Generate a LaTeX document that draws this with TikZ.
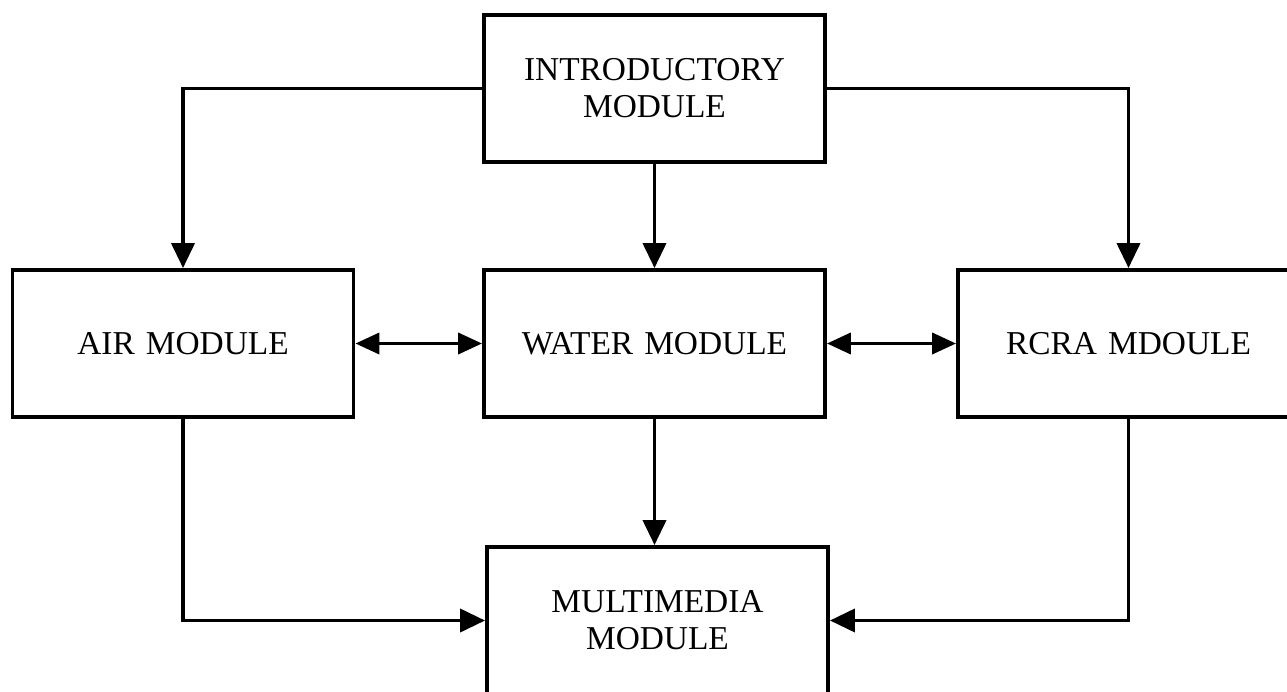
\documentclass[tikz,border=0pt]{standalone}
\usepackage{fontspec}
\setmainfont{Liberation Serif}
\usepackage{tikz}
\usetikzlibrary{arrows.meta}
\tikzstyle{line} = [draw, line width=2.2pt, -{Triangle[length=0.5cm, width=0.46cm]}]
\tikzstyle{both} = [draw, line width=2.2pt, {Triangle[length=0.48cm, width=0.42cm]}-{Triangle[length=0.48cm, width=0.42cm]}]
\tikzstyle{module} = [rectangle, draw, line width=2.2pt, minimum width=6.82cm, minimum height=2.94cm, text width=6cm, align=center, node distance=9.45cm, font=\fontsize{19}{21}\selectfont]

\begin{document}
\begin{tikzpicture}
\clip (0,0) rectangle (25.74,-13.82);
\node [module] (water) at (13.09,-6.87) {WATER MODULE};
\node [module, above of = water, node distance = 5.1cm] (intro) {INTRODUCTORY\\MODULE};
\node [module, left of = water, node distance = 9.43cm] (air) {AIR MODULE};
\node [module, right of = water, node distance = 9.48cm] (rcra) {RCRA MDOULE};
\node [module, below of = water, node distance = 5.54cm, xshift = 0.06cm] (multi) {MULTIMEDIA\\MODULE};

\path [line] (intro.west) -| (air.north);
\path [line] (intro.south) to (water.north);
\path [line] (intro.east) -| (rcra.north);
\path [both] (air.east) to (water.west);
\path [both] (water.east) to (rcra.west);
\path [line] (water.south) to (water.south |- multi.north);
\path [line] (air.south) |- (multi.west);
\path [line] (rcra.south) |- (multi.east);

\end{tikzpicture}
\end{document}
